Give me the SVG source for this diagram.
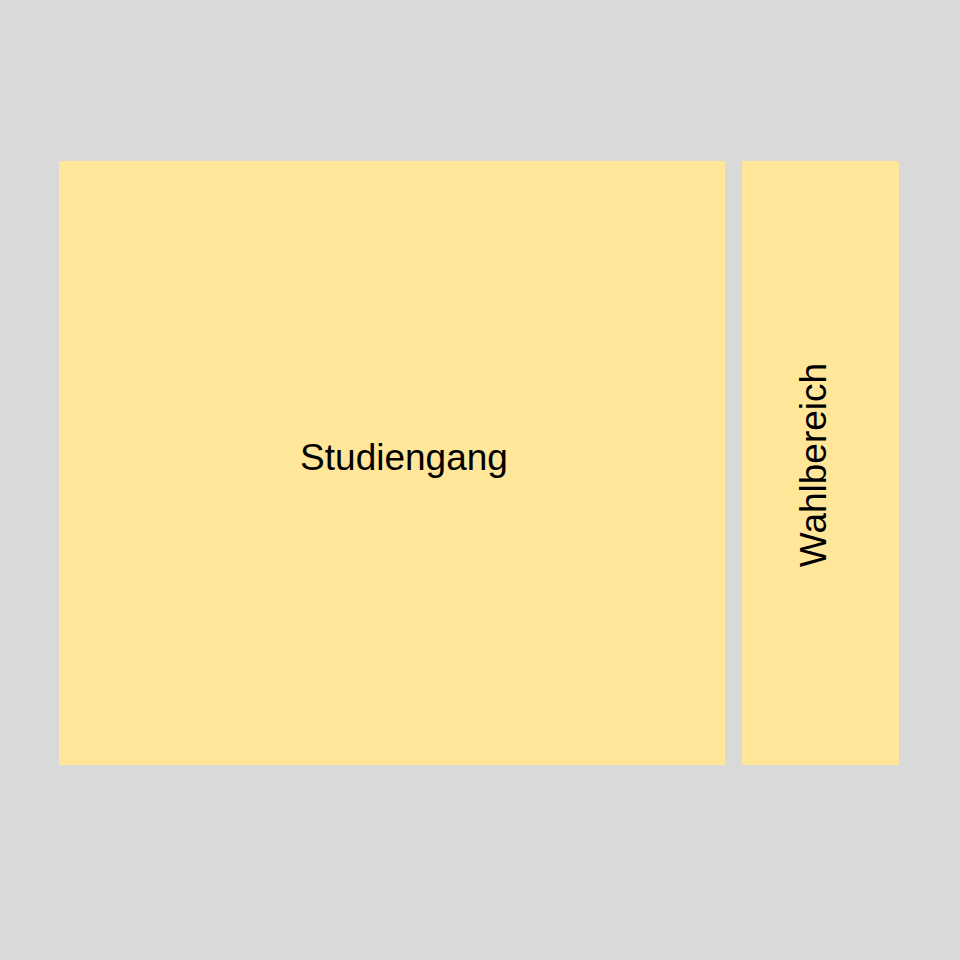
<svg xmlns="http://www.w3.org/2000/svg" width="960" height="960" viewBox="0 0 960 960">
<style>
.box{fill:#FFE699;}
.lbl{font-family:"Liberation Sans",Arial,sans-serif;font-size:37px;fill:#000;text-anchor:middle;}
</style>
<rect width="960" height="960" fill="#D9D9D9"/>
<g id="studiengang">
<rect class="box" x="59" y="161" width="666" height="604"/>
<text class="lbl" x="404" y="470">Studiengang</text>
</g>
<g id="wahlbereich">
<rect class="box" x="742" y="161" width="157" height="604"/>
<text class="lbl" transform="translate(826,465) rotate(-90)">Wahlbereich</text>
</g>
<g id="connectors"></g>
</svg>
